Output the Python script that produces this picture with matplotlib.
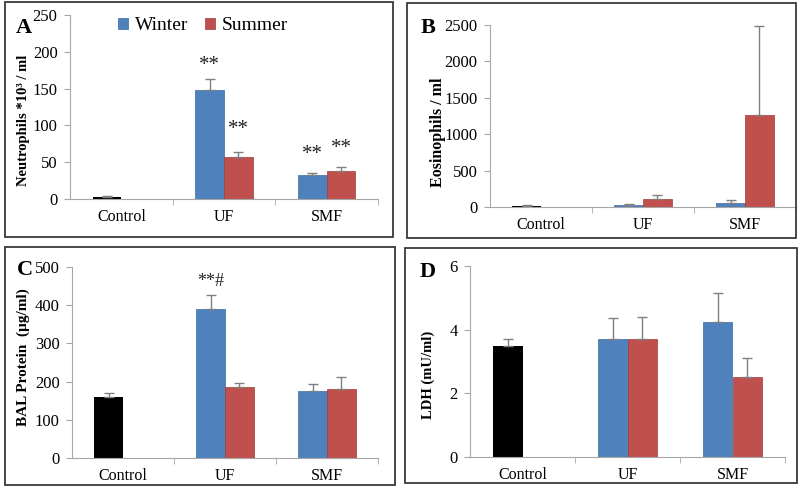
import matplotlib
matplotlib.use('Agg')
import matplotlib.pyplot as plt
from matplotlib.patches import Rectangle

plt.rcParams['font.family'] = ['Liberation Serif', 'DejaVu Serif']

categories = ['Control', 'UF', 'SMF']

# A - neutrophils
neut_control, neut_control_err = 3, 1.5
neut_winter = [148, 32]
neut_winter_err = [15, 4]
neut_summer = [57, 38]
neut_summer_err = [7, 5]

# B - eosinophils
eos_control, eos_control_err = 20, 10
eos_winter = [25, 55]
eos_winter_err = [15, 45]
eos_summer = [110, 1265]
eos_summer_err = [55, 1220]

# C - BAL protein
prot_control, prot_control_err = 160, 10
prot_winter = [390, 176]
prot_winter_err = [38, 18]
prot_summer = [187, 181]
prot_summer_err = [10, 32]

# D - LDH
ldh_control, ldh_control_err = 3.5, 0.22
ldh_winter = [3.7, 4.25]
ldh_winter_err = [0.68, 0.9]
ldh_summer = [3.7, 2.52]
ldh_summer_err = [0.7, 0.6]

blue = '#4F81BD'
red = '#C0504D'
W, H = 800, 491

fig = plt.figure(figsize=(8, 4.91), dpi=100)


def px_axes(l, r, t, b):
    return fig.add_axes([l / W, 1 - b / H, (r - l) / W, (b - t) / H])


def box(l, t, r, b):
    fig.patches.append(Rectangle((l / W, 1 - b / H), (r - l) / W, (b - t) / H,
                                 transform=fig.transFigure, fill=False,
                                 edgecolor='#3a3a3a', linewidth=1.3))


def panel(ax, ctrl, ctrl_err, win, win_err, summ, summ_err, ymax, ystep, ylabel, lsize, letter, letter_xy):
    bw = 0.28
    ekw = dict(ecolor='#808080', elinewidth=1, capsize=3.5, capthick=1)
    ax.bar(0 - bw / 2, ctrl, bw, color='black', yerr=[[0], [ctrl_err]], error_kw=ekw)
    xs = [1, 2]
    ax.bar([x - bw / 2 for x in xs], win, bw, color=blue, edgecolor='#3d6a9e', linewidth=0.5,
           yerr=[[0, 0], win_err], error_kw=ekw, label='Winter')
    ax.bar([x + bw / 2 for x in xs], summ, bw, color=red, edgecolor='#9c3d3a', linewidth=0.5,
           yerr=[[0, 0], summ_err], error_kw=ekw, label='Summer')
    ax.set_xlim(-0.5, 2.5)
    ax.set_ylim(0, ymax)
    ax.set_yticks([i * ystep for i in range(int(round(ymax / ystep)) + 1)])
    ax.set_xticks([0, 1, 2])
    ax.set_xticklabels(categories)
    ax.set_xticks([0.5, 1.5, 2.5], minor=True)
    ax.tick_params(axis='x', which='major', length=0, pad=7, labelsize=11.5)
    ax.tick_params(axis='x', which='minor', length=4, color='#a6a6a6', direction='out')
    ax.tick_params(axis='y', length=4, color='#a6a6a6', pad=5, labelsize=12)
    for s in ['top', 'right']:
        ax.spines[s].set_visible(False)
    for s in ['left', 'bottom']:
        ax.spines[s].set_color('#a6a6a6')
    ax.set_ylabel(ylabel, fontweight='bold', fontsize=lsize)
    fig.text(letter_xy[0] / W, 1 - letter_xy[1] / H, letter, fontsize=16, fontweight='bold',
             ha='center', va='center')


axA = px_axes(70, 378, 15, 199)
panel(axA, neut_control, neut_control_err, neut_winter, neut_winter_err, neut_summer, neut_summer_err,
      250, 50, 'Neutrophils *10³ / ml', 10.5, 'A', (24, 28))
axA.yaxis.set_label_coords(-40 / 308, 0.43)
star_x = [1 - 0.14, 1 + 0.14, 2 - 0.14, 2 + 0.14]
star_y = [182, 95, 61, 68]
for x, y in zip(star_x, star_y):
    axA.text(x, y, '**', fontsize=15, ha='center', va='center', color='#222222')
axA.legend(loc='center left', bbox_to_anchor=(118 / W, 1 - 26 / H), bbox_transform=fig.transFigure,
           ncol=2, frameon=False, fontsize=14, handlelength=0.5, handleheight=0.5,
           handletextpad=0.35, columnspacing=0.9, borderpad=0, borderaxespad=0)

axB = px_axes(490, 796, 25, 207)
panel(axB, eos_control, eos_control_err, eos_winter, eos_winter_err, eos_summer, eos_summer_err,
      2500, 500, 'Eosinophils / ml', 11.5, 'B', (428, 28))
axB.yaxis.set_label_coords(-44 / 306, 0.41)

axC = px_axes(72, 378, 267, 458)
panel(axC, prot_control, prot_control_err, prot_winter, prot_winter_err, prot_summer, prot_summer_err,
      500, 100, 'BAL Protein  (µg/ml)', 11, 'C', (25, 270))
axC.yaxis.set_label_coords(-42 / 306, 0.53)
axC.text(1 - 0.14, 461, '**#', fontsize=13, ha='center', va='center', color='#222222')

axD = px_axes(470, 785, 266, 457)
panel(axD, ldh_control, ldh_control_err, ldh_winter, ldh_winter_err, ldh_summer, ldh_summer_err,
      6, 2, 'LDH (mU/ml)', 10.5, 'D', (428, 272))
axD.yaxis.set_label_coords(-35 / 315, 0.43)

box(5, 2, 393, 237)
box(407, 3, 796, 238)
box(5, 247, 395, 485)
box(405, 248, 797, 483)

fig.savefig('out.png', dpi=100)
